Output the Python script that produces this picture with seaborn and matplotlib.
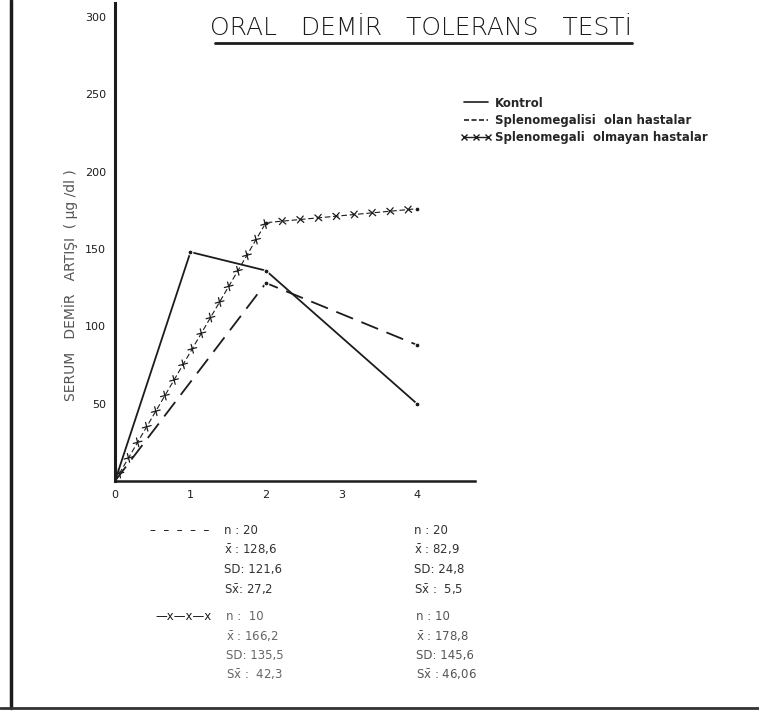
import numpy as np
import pandas as pd
import matplotlib.pyplot as plt
import matplotlib.patheffects as pe
from matplotlib.lines import Line2D
import seaborn as sns

# Saat (x) ve serum demir artisi, ug/dl (y)
saat_kontrol = [0, 1, 2, 4]
kontrol = [0, 148, 136, 50]
saat_hasta = [0, 2, 4]
splen_olan = [0, 128, 88]
splen_olmayan = [0, 167, 176]

xticks = [0, 1, 2, 3, 4]
yticks = [50, 100, 150, 200, 250, 300]

seri_adlari = ["Kontrol", "Splenomegalisi  olan hastalar", "Splenomegali  olmayan hastalar"]

# Istatistik tablosu (2. saat ve 4. saat sutunlari)
istat_olan_2 = ["n : 20", r"$\bar{x}$ : 128,6", "SD: 121,6", r"S$\bar{x}$: 27,2"]
istat_olan_4 = ["n : 20", r"$\bar{x}$ : 82,9", "SD: 24,8", r"S$\bar{x}$ :  5,5"]
istat_olmayan_2 = ["n :  10", r"$\bar{x}$ : 166,2", "SD: 135,5", r"S$\bar{x}$ :  42,3"]
istat_olmayan_4 = ["n : 10", r"$\bar{x}$ : 178,8", "SD: 145,6", r"S$\bar{x}$ : 46,06"]

sns.set_style("white")
plt.rcParams['font.family'] = ['Liberation Sans Narrow', 'DejaVu Sans']
plt.rcParams['mathtext.default'] = 'regular'

ink = '#1c1c1c'
df_k = pd.DataFrame({'saat': saat_kontrol, 'deger': kontrol})
df_h = pd.DataFrame({'saat': saat_hasta, 'olan': splen_olan, 'olmayan': splen_olmayan})

fig = plt.figure(figsize=(7.59, 7.2), dpi=100)
ax = fig.add_axes([115/759, 1 - 481/720, 360/759, 478/720])

# Kontrol - duz cizgi
sns.lineplot(data=df_k, x='saat', y='deger', ax=ax, color=ink, lw=1.3,
             marker='o', markersize=3.5, markevery=[1, 2, 3], legend=False)
# Splenomegalisi olan - uzun kesikli
sns.lineplot(data=df_h, x='saat', y='olan', ax=ax, color=ink, lw=1.3,
             linestyle=(0, (10, 5)), marker='o', markersize=3.5, markevery=[1, 2], legend=False)
# Splenomegali olmayan - kesikli cizgi uzerinde x isaretleri
sns.lineplot(data=df_h, x='saat', y='olmayan', ax=ax, color=ink, lw=0.8,
             linestyle=(0, (5, 2.5)), marker='o', markersize=3.5, markevery=[1, 2], legend=False)
ticks_x = [pe.TickedStroke(spacing=12.5, angle=a, length=0.26) for a in (45, -135, 135, -45)]
sns.lineplot(data=df_h, x='saat', y='olmayan', ax=ax, color=ink, lw=0.9,
             path_effects=ticks_x, legend=False)

ax.set_xlim(0, 4.77)
ax.set_ylim(0, 309)
ax.set_xticks(xticks)
ax.set_xticklabels([str(t) for t in xticks])
ax.set_yticks(yticks)
ax.set_yticklabels([str(t) for t in yticks])
ax.tick_params(direction='inout', length=7, width=1, colors=ink, labelsize=8, pad=3)
ax.set_xlabel('')
ax.set_ylabel('')
sns.despine(ax=ax)
ax.spines['left'].set_linewidth(2.2)
ax.spines['bottom'].set_linewidth(1.8)
ax.spines['left'].set_color(ink)
ax.spines['bottom'].set_color(ink)

# Baslik (alti cizili)
fig.text(421/759, 1 - 28/720, "ORAL   DEMİR   TOLERANS   TESTİ", ha='center', va='center',
         fontsize=18, color=ink, family=['DejaVu Sans'], fontweight='light')
fig.add_artist(Line2D([215/759, 632/759], [1 - 43/720, 1 - 43/720], color=ink, lw=2))

# Y ekseni etiketi
fig.text(70/759, 1 - 285/720, "SERUM   DEMİR   ARTIŞI  ( µg /dl )", rotation=90,
         ha='center', va='center', fontsize=10, color='#555555')

# Aciklama
handles = [
    Line2D([], [], color=ink, lw=1.2),
    Line2D([], [], color=ink, lw=1.2, linestyle=(0, (3, 1.5))),
    Line2D([], [], color=ink, lw=1.0, marker='x', markersize=4),
]
fig.legend(handles, seri_adlari, loc='upper left', bbox_to_anchor=(450/759, 1 - 86/720),
           frameon=False, numpoints=3, handlelength=2.6, handletextpad=0.3, labelspacing=0.35,
           prop={'size': 8.5, 'weight': 'bold', 'family': ['Liberation Sans Narrow', 'DejaVu Sans']})

# Istatistik bloklari
satir_y = [530, 550, 570, 590]
for i, s in enumerate(istat_olan_2):
    fig.text(224/759, 1 - satir_y[i]/720, s, va='center', fontsize=8.5, color='#333333')
for i, s in enumerate(istat_olan_4):
    fig.text(414/759, 1 - satir_y[i]/720, s, va='center', fontsize=8.5, color='#333333')
satir_y2 = [617, 637, 656, 675]
for i, s in enumerate(istat_olmayan_2):
    fig.text(226/759, 1 - satir_y2[i]/720, s, va='center', fontsize=8.5, color='#666666')
for i, s in enumerate(istat_olmayan_4):
    fig.text(416/759, 1 - satir_y2[i]/720, s, va='center', fontsize=8.5, color='#555555')
fig.text(150/759, 1 - 530/720, "–  –  –  –  –", va='center', fontsize=8.5, color=ink)
fig.text(155/759, 1 - 617/720, "—x—x—x", va='center', fontsize=8.5, color=ink)

# Taranmis sayfa kenar cizgileri
fig.add_artist(Line2D([11/759, 11/759], [1 - 708/720, 1.0], color=ink, lw=2.5))
fig.add_artist(Line2D([0, 1], [1 - 708/720, 1 - 708/720], color='#333333', lw=2))

fig.savefig('out.png', dpi=100, facecolor='white')
